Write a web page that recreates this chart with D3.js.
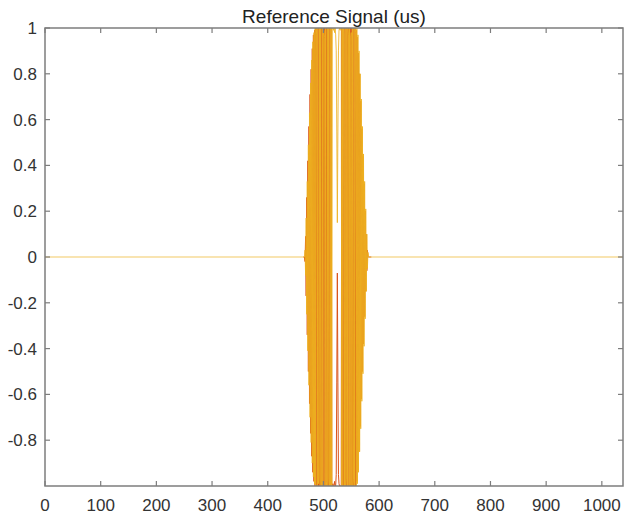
<!DOCTYPE html>
<html lang="en">
<head>
  <meta charset="UTF-8">
  <title>Reference Signal (us)</title>
  <style>
      body { margin: 0; background: #fff; }
      .axis-box { fill: none; stroke: #7d7d7d; stroke-width: 1.5; }
      .tick-mark { stroke: #7d7d7d; stroke-width: 1.2; }
      .tick-label { font: 17px "Liberation Sans", Arial, sans-serif; fill: #333; }
      .title { font: 19px "Liberation Sans", Arial, sans-serif; fill: #222; }
      .trace { fill: none; stroke-linejoin: round; }
  </style>
</head>
<body>
<div id="chart"></div>
<script src="https://d3js.org/d3.v7.min.js"></script>
<script>
  // samples of the reference signal, indices 464..586 (outside: zero)
  const sampleStart = 464;
  const xExtent = [0, 1038];

  const yellowValues = [
    0, 0, 0, 0.03, -0.08, 0.17, -0.25, 0.33, -0.41, 0.49,
    -0.56, 0.63, -0.70, 0.76, -0.81, 0.86, -0.90, 0.94, -0.96, 0.98,
    -0.99, 1, -1, 1, 0.97, -1, 1, -0.99, -0.96, 1,
    -1, 1, -0.98, -1, 1, -1, 1, 0.99, 0.96, -1,
    1, -1, -0.98, 1, -1, 1, -0.97, -1, 1, -1,
    1, -1, 1, 1, 0.99, 1, 0.98, 1, 0.97, 0.9,
    0.55, 0.15, 0.55, 0.9, 0.99, 1, 0.99, 1, 1, -1,
    1, -1, 1, 0.98, -1, 1, -1, -0.97, 1, -1,
    1, 0.97, -1, 1, -1, 0.96, 0.98, -1, 1, -1,
    -0.97, 1, -1, 1, 0.98, -1, 1, -0.99, 0.97, -0.94,
    0.90, -0.85, 0.80, -0.75, 0.69, -0.63, 0.57, -0.51, 0.45, -0.39,
    0.33, -0.27, 0.21, -0.15, 0.10, -0.05, 0.02, 0, 0, 0,
    0, 0, 0
  ];

  // second trace only differs inside the burst
  const orangeValues = [
    0, 0, 0, -0.02, 0.09, -0.17, 0.26, -0.34, 0.42, -0.50,
    0.57, -0.64, 0.71, -0.77, 0.82, -0.87, 0.91, -0.94, 0.97, -0.98,
    0.99, -1, 1, -1, 1, -1, 1, -1, 1, -1,
    1, -1, 1, -1, 1, -1, 1, -1, 1, -1,
    1, -1, 1, -1, 1, -1, 1, -1, 1, -1,
    1, -1, -1, -0.99, -1, -1, -0.98, -1, -1, -0.95,
    -0.55, -0.07, -0.55, -0.95, -0.99, -1, -1, -1, -1, 1,
    -1, 1, -1, 1, -1, 1, -1, 1, -1, 1,
    -1, 1, -1, 1, -1, 1, -1, 1, -1, 1,
    -1, 1, -1, 1, -1, 0.99, -0.98, 0.96, -0.93, 0.89,
    -0.85, 0.80, -0.74, 0.68, -0.62, 0.56, -0.50, 0.44, -0.38, 0.32,
    -0.26, 0.20, -0.15, 0.10, -0.06, 0.03, 0, 0, 0, 0,
    0, 0, 0
  ];

  const xTicks = [0, 100, 200, 300, 400, 500, 600, 700, 800, 900, 1000];
  const yTicks = [-0.8, -0.6, -0.4, -0.2, 0, 0.2, 0.4, 0.6, 0.8, 1];
  const yTickLabels = ["-0.8", "-0.6", "-0.4", "-0.2", "0", "0.2", "0.4", "0.6", "0.8", "1"];

  const width = 624, height = 519;
  const plot = {left: 45, right: 623, top: 28, bottom: 486};

  const svg = d3.select("#chart").append("svg")
    .attr("width", width)
    .attr("height", height);

  const x = d3.scaleLinear().domain(xExtent).range([plot.left, plot.right]);
  const y = d3.scaleLinear().domain([-1, 1]).range([plot.bottom, plot.top]);

  function burstPoints(values) {
    return values.map((v, i) => [sampleStart + i, v]);
  }

  svg.append("clipPath").attr("id", "clip")
    .append("rect")
    .attr("x", plot.left).attr("y", plot.top)
    .attr("width", plot.right - plot.left)
    .attr("height", plot.bottom - plot.top);

  const line = d3.line().x(d => x(d[0])).y(d => y(d[1]));

  const traces = svg.append("g").attr("clip-path", "url(#clip)");
  traces.append("path")
    .attr("class", "trace")
    .attr("stroke", "#D95319")
    .attr("stroke-width", 1.0)
    .attr("d", line(burstPoints(orangeValues)));
  traces.append("path")
    .attr("class", "trace")
    .attr("stroke", "#EDB120")
    .attr("stroke-width", 0.85)
    .attr("d", line(burstPoints(yellowValues)));
  // flat part of the yellow trace
  traces.append("path")
    .attr("class", "trace")
    .attr("stroke", "#EDB120")
    .attr("stroke-width", 0.7)
    .attr("d", line([[xExtent[0], 0], [sampleStart, 0]]));
  traces.append("path")
    .attr("class", "trace")
    .attr("stroke", "#EDB120")
    .attr("stroke-width", 0.7)
    .attr("d", line([[sampleStart + yellowValues.length - 1, 0], [xExtent[1], 0]]));

  // box
  svg.append("rect")
    .attr("class", "axis-box")
    .attr("x", plot.left).attr("y", plot.top)
    .attr("width", plot.right - plot.left)
    .attr("height", plot.bottom - plot.top);

  const tickLen = 5;

  // x ticks (bottom and top, pointing inward)
  xTicks.forEach(t => {
    svg.append("line").attr("class", "tick-mark")
      .attr("x1", x(t)).attr("x2", x(t))
      .attr("y1", plot.bottom).attr("y2", plot.bottom - tickLen);
    svg.append("line").attr("class", "tick-mark")
      .attr("x1", x(t)).attr("x2", x(t))
      .attr("y1", plot.top).attr("y2", plot.top + tickLen);
    svg.append("text").attr("class", "tick-label")
      .attr("x", x(t))
      .attr("y", plot.bottom + 25)
      .attr("text-anchor", "middle")
      .text(t);
  });

  // y ticks (left and right)
  yTicks.forEach((t, i) => {
    svg.append("line").attr("class", "tick-mark")
      .attr("x1", plot.left).attr("x2", plot.left + tickLen)
      .attr("y1", y(t)).attr("y2", y(t));
    svg.append("line").attr("class", "tick-mark")
      .attr("x1", plot.right).attr("x2", plot.right - tickLen)
      .attr("y1", y(t)).attr("y2", y(t));
    svg.append("text").attr("class", "tick-label")
      .attr("x", plot.left - 8)
      .attr("y", y(t))
      .attr("dy", "0.35em")
      .attr("text-anchor", "end")
      .text(yTickLabels[i]);
  });

  svg.append("text")
    .attr("class", "title")
    .attr("x", (plot.left + plot.right) / 2)
    .attr("y", plot.top - 5)
    .attr("text-anchor", "middle")
    .text("Reference Signal (us)");
</script>
</body>
</html>
